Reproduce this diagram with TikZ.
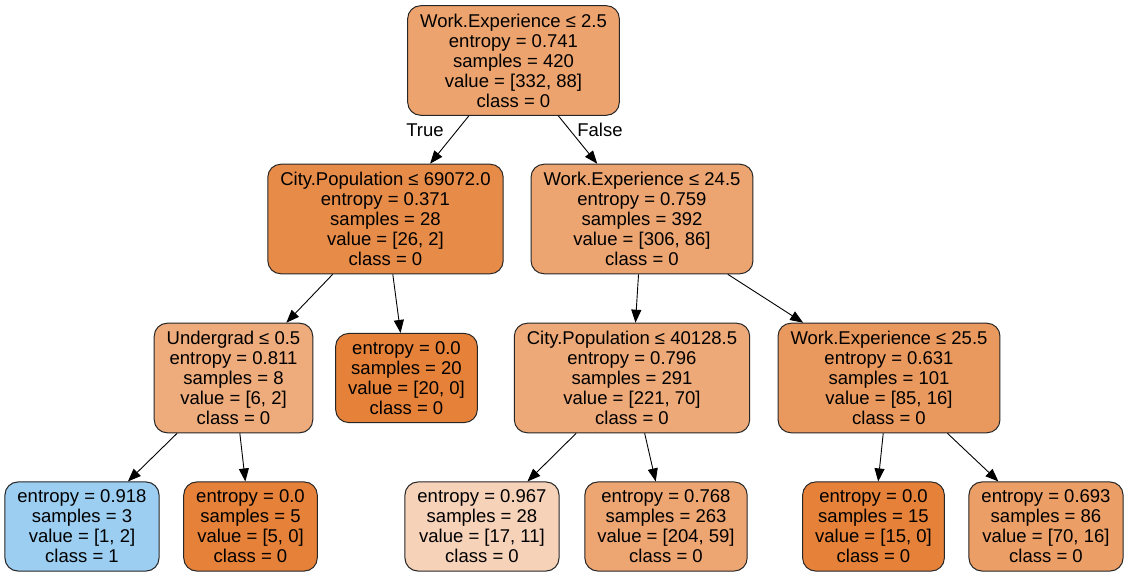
\documentclass[tikz,border=0pt]{standalone}
\usepackage{fontspec}
\setmainfont{Liberation Sans}
\usetikzlibrary{arrows.meta}

\definecolor{c0}{RGB}{236,163,110}
\definecolor{c1}{RGB}{231,139,72}
\definecolor{c2}{RGB}{238,171,123}
\definecolor{c3}{RGB}{156,206,242}
\definecolor{c4}{RGB}{229,129,57}
\definecolor{c6}{RGB}{236,164,113}
\definecolor{c7}{RGB}{237,169,120}
\definecolor{c8}{RGB}{246,210,185}
\definecolor{c9}{RGB}{237,165,114}
\definecolor{c10}{RGB}{234,153,94}
\definecolor{c12}{RGB}{235,158,102}

\tikzset{
  leaf/.style={draw=black!85, line width=1pt, rounded corners=13pt, align=center,
    inner xsep=12.5pt, inner ysep=8pt, font=\fontsize{18.5}{20}\selectfont},
  edge/.style={-{Triangle[length=13pt,width=10pt]}, line width=0.9pt},
  lbl/.style={font=\fontsize{18.5}{20}\selectfont}
}

\begin{document}
\begin{tikzpicture}[x=1pt, y=-1pt]
\useasboundingbox (0,0) rectangle (1128,577);

\node[leaf, fill=c0] (0) at (513.5,60.5) {Work.Experience ≤ 2.5\\entropy = 0.741\\samples = 420\\value = [332, 88]\\class = 0};
\node[leaf, fill=c1] (1) at (385.5,219) {City.Population ≤ 69072.0\\entropy = 0.371\\samples = 28\\value = [26, 2]\\class = 0};
\node[leaf, fill=c2] (2) at (233.5,378) {Undergrad ≤ 0.5\\entropy = 0.811\\samples = 8\\value = [6, 2]\\class = 0};
\node[leaf, fill=c3] (3) at (82,526.5) {entropy = 0.918\\samples = 3\\value = [1, 2]\\class = 1};
\node[leaf, fill=c4] (4) at (250.5,526.5) {entropy = 0.0\\samples = 5\\value = [5, 0]\\class = 0};
\node[leaf, fill=c4] (5) at (406.5,378) {entropy = 0.0\\samples = 20\\value = [20, 0]\\class = 0};
\node[leaf, fill=c6] (6) at (642,219) {Work.Experience ≤ 24.5\\entropy = 0.759\\samples = 392\\value = [306, 86]\\class = 0};
\node[leaf, fill=c7] (7) at (632,378) {City.Population ≤ 40128.5\\entropy = 0.796\\samples = 291\\value = [221, 70]\\class = 0};
\node[leaf, fill=c8] (8) at (482,526.5) {entropy = 0.967\\samples = 28\\value = [17, 11]\\class = 0};
\node[leaf, fill=c9] (9) at (666,526.5) {entropy = 0.768\\samples = 263\\value = [204, 59]\\class = 0};
\node[leaf, fill=c10] (10) at (889,378) {Work.Experience ≤ 25.5\\entropy = 0.631\\samples = 101\\value = [85, 16]\\class = 0};
\node[leaf, fill=c4] (11) at (873.5,526.5) {entropy = 0.0\\samples = 15\\value = [15, 0]\\class = 0};
\node[leaf, fill=c12] (12) at (1046,526.5) {entropy = 0.693\\samples = 86\\value = [70, 16]\\class = 0};

\draw[edge] (0) -- (1);
\draw[edge] (0) -- (6);
\draw[edge] (1) -- (2);
\draw[edge] (1) -- (5);
\draw[edge] (2) -- (3);
\draw[edge] (2) -- (4);
\draw[edge] (6) -- (7);
\draw[edge] (6) -- (10);
\draw[edge] (7) -- (8);
\draw[edge] (7) -- (9);
\draw[edge] (10) -- (11);
\draw[edge] (10) -- (12);

\node[lbl] (true) at (425,130) {True};
\node[lbl] (false) at (600,130) {False};
\end{tikzpicture}
\end{document}
